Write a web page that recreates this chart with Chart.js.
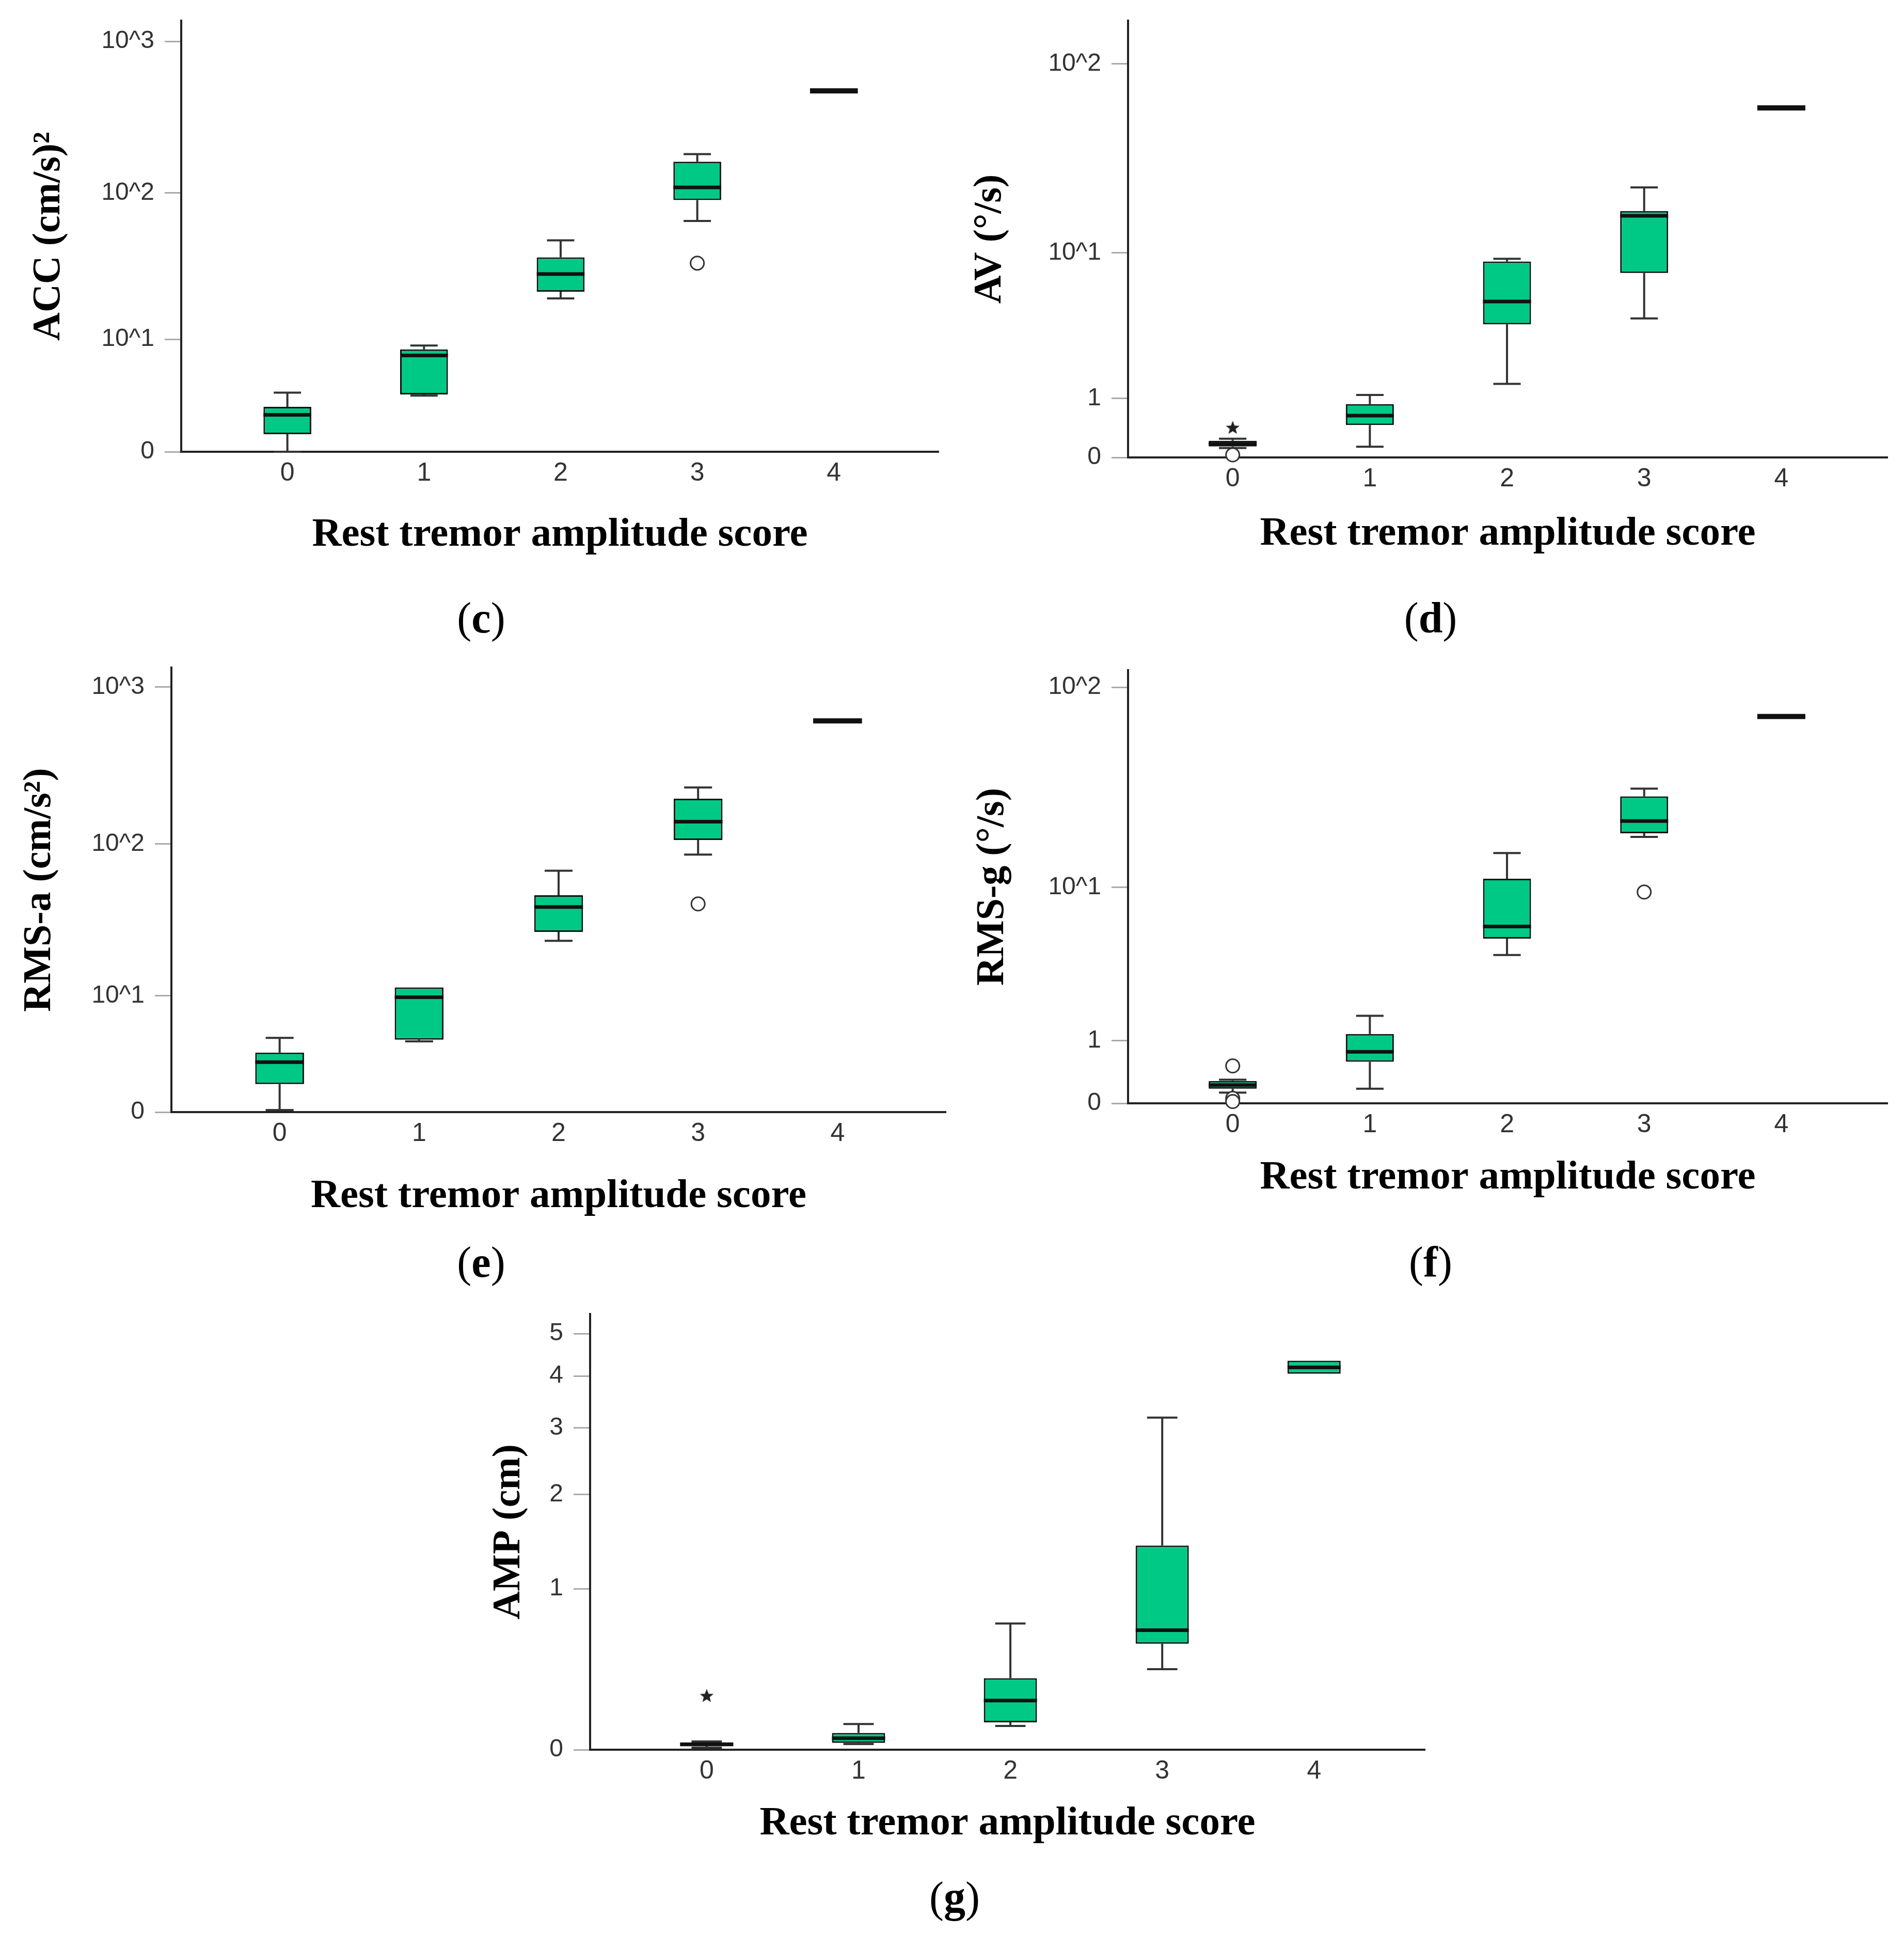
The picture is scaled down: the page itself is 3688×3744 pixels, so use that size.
<!DOCTYPE html>
<html>
<head>
<meta charset="utf-8">
<title>Rest tremor amplitude score - boxplots</title>
<script src="https://cdn.jsdelivr.net/npm/chart.js@4.4.1/dist/chart.umd.min.js"></script>
<style>
  html, body { margin: 0; padding: 0; background: #fff; }
  body { position: relative; width: 3688px; height: 3744px; overflow: hidden; font-family: "Liberation Serif", "Times New Roman", serif; }
  canvas { position: absolute; }
  .cap { position: absolute; font-size: 84px; line-height: 1; transform: translate(-50%, -50%); color: #000; white-space: nowrap; }
</style>
</head>
<body>
<canvas id="chartC"></canvas>
<canvas id="chartD"></canvas>
<canvas id="chartE"></canvas>
<canvas id="chartF"></canvas>
<canvas id="chartG"></canvas>
<div class="cap" style="left:932px;top:1197px">(<b>c</b>)</div>
<div class="cap" style="left:2771px;top:1197px">(<b>d</b>)</div>
<div class="cap" style="left:932px;top:2445px">(<b>e</b>)</div>
<div class="cap" style="left:2771px;top:2445px">(<b>f</b>)</div>
<div class="cap" style="left:1849px;top:3675px">(<b>g</b>)</div>
<script>
// categories
const scores = ["0", "1", "2", "3", "4"];

// (c) ACC (cm/s)²
const accMin = [1.0, 3.68, 19.4, 64.9, 472];
const accQ1 = [1.61, 3.76, 21.6, 89.5, 472];
const accMedian = [2.5, 7.6, 28.5, 108.6, 472];
const accQ3 = [2.95, 8.42, 37.0, 160.8, 472];
const accMax = [3.9, 9.0, 48.2, 180.5, 472];
const accOutScore = [3];
const accOutValue = [33.8];
const accTickValues = [1, 10, 100, 1000];
const accTickLabels = ["0", "10^1", "10^2", "10^3"];

// (d) AV (°/s)
const avMin = [0.116, 0.133, 1.37, 4.1, 59.2];
const avQ1 = [0.137, 0.462, 3.76, 7.69, 59.2];
const avMedian = [0.172, 0.633, 5.22, 16.0, 59.2];
const avQ3 = [0.215, 0.868, 8.94, 16.97, 59.2];
const avMax = [0.245, 1.08, 9.26, 22.7, 59.2];
const avOutScore = [0];
const avOutValue = [0.03];
const avExtScore = [0];
const avExtValue = [0.42];
const avTickValues = [0, 1, 10, 100];
const avTickLabels = ["0", "1", "10^1", "10^2"];

// (e) RMS-a (cm/s²)
const rmsaMin = [1.06, 4.63, 23.5, 85.5, 610];
const rmsaQ1 = [2.01, 4.77, 26.9, 106, 610];
const rmsaMedian = [3.15, 9.74, 39.2, 139, 610];
const rmsaQ3 = [3.78, 11.4, 46.7, 195, 610];
const rmsaMax = [4.92, 11.4, 67.3, 229.7, 610];
const rmsaOutScore = [3];
const rmsaOutValue = [41];
const rmsaTickValues = [1, 10, 100, 1000];
const rmsaTickLabels = ["0", "10^1", "10^2", "10^3"];

// (f) RMS-g (°/s)
const rmsgMin = [0.127, 0.175, 4.18, 18.2, 72.1];
const rmsgQ1 = [0.175, 0.585, 5.22, 19.0, 72.1];
const rmsgMedian = [0.224, 0.77, 6.11, 21.9, 72.1];
const rmsgQ3 = [0.282, 1.158, 11.08, 29.1, 72.1];
const rmsgMax = [0.30, 1.64, 15.07, 31.8, 72.1];
const rmsgOutScore = [0, 0, 0, 3];
const rmsgOutValue = [0.514, 0.057, 0.02, 9.42];
const rmsgTickValues = [0, 1, 10, 100];
const rmsgTickLabels = ["0", "1", "10^1", "10^2"];

// (g) AMP (cm)
const ampMin = [0.009, 0.025, 0.108, 0.415, 4.05];
const ampQ1 = [0.018, 0.030, 0.125, 0.578, 4.05];
const ampMedian = [0.023, 0.051, 0.236, 0.673, 4.19];
const ampQ3 = [0.032, 0.075, 0.361, 1.41, 4.34];
const ampMax = [0.036, 0.117, 0.722, 3.18, 4.34];
const ampExtScore = [0];
const ampExtValue = [0.262];
const ampTickValues = [0, 1, 2, 3, 4, 5];
const ampTickLabels = ["0", "1", "2", "3", "4", "5"];

const GREEN = "#00c986";
const FONT = "'Liberation Serif', 'Times New Roman', serif";
const TICK_FONT = "'Liberation Sans Narrow', 'Liberation Sans', sans-serif";
Chart.defaults.font.family = FONT;
Chart.defaults.color = "#222";

// axes are drawn on a log10(1 + v) scale
const tr = v => Math.log10(1 + v);

// little filled star for the extreme values
const star = document.createElement("canvas");
star.width = 32; star.height = 32;
(function () {
  const c = star.getContext("2d");
  c.beginPath();
  for (let k = 0; k < 10; k++) {
    const r = k % 2 ? 6 : 14;
    const a = -Math.PI / 2 + k * Math.PI / 5;
    c.lineTo(16 + r * Math.cos(a), 17 + r * Math.sin(a));
  }
  c.closePath();
  c.fillStyle = "#222";
  c.fill();
})();

function buildBoxes(mins, q1s, meds, q3s, maxs) {
  const boxes = [], medians = [], singles = [], stems = [], caps = [];
  q1s.forEach((q1, i) => {
    const q3 = q3s[i], md = meds[i], lo = mins[i], hi = maxs[i];
    if (q3 > q1) {
      boxes.push({ x: i, y: [tr(q1), tr(q3)] });
      medians.push({ x: i - 0.175, y: tr(md) }, { x: i + 0.175, y: tr(md) }, { x: i, y: null });
    } else {
      singles.push({ x: i - 0.175, y: tr(md) }, { x: i + 0.175, y: tr(md) }, { x: i, y: null });
    }
    if (hi > q3) {
      stems.push({ x: i, y: tr(q3) }, { x: i, y: tr(hi) }, { x: i, y: null });
      caps.push({ x: i - 0.1, y: tr(hi) }, { x: i + 0.1, y: tr(hi) }, { x: i, y: null });
    }
    if (lo < q1) {
      stems.push({ x: i, y: tr(q1) }, { x: i, y: tr(lo) }, { x: i, y: null });
      caps.push({ x: i - 0.1, y: tr(lo) }, { x: i + 0.1, y: tr(lo) }, { x: i, y: null });
    }
  });
  return { boxes, medians, singles, stems, caps };
}

function points(xs, vs) {
  return xs.map((x, i) => ({ x: x, y: tr(vs[i]) }));
}

function drawPanel(id, geo, stats, outs, exts, tickValues, tickLabels, yTitle) {
  const canvas = document.getElementById(id);
  const yLH = 76 * 1.2, xLH = 78 * 1.2, padTop = 20, padRight = 12;
  const left = Math.round(geo.yTitleX - yLH / 2);
  const top = geo.plotTop - padTop;
  const bottom = Math.round(geo.xTitleY + xLH / 2);
  const width = geo.plotRight + padRight - left;
  const height = bottom - top;
  canvas.width = width;
  canvas.height = height;
  canvas.style.left = left + "px";
  canvas.style.top = top + "px";
  canvas.style.width = width + "px";
  canvas.style.height = height + "px";
  const yW = geo.plotLeft - left;
  const xH = bottom - geo.plotBottom;

  const b = buildBoxes(...stats);
  const lineSet = (data, color, w, order) => ({
    type: "line", data: data, borderColor: color, borderWidth: w,
    pointRadius: 0, order: order, clip: false, tension: 0
  });

  new Chart(canvas, {
    type: "bar",
    data: {
      datasets: [
        lineSet(b.medians, "#111", 7, 0),
        lineSet(b.singles, "#111", 10, 0),
        {
          type: "line", data: outs, showLine: false, pointStyle: "circle",
          pointRadius: 13, pointBackgroundColor: "#fff", pointBorderColor: "#333",
          pointBorderWidth: 3, order: 1, clip: false
        },
        {
          type: "line", data: exts, showLine: false, pointStyle: star,
          pointRadius: 14, order: 1, clip: false
        },
        {
          type: "bar", data: b.boxes, backgroundColor: GREEN, borderColor: "#111",
          borderWidth: 3, borderSkipped: false, barPercentage: 0.35,
          categoryPercentage: 1, grouped: false, order: 2
        },
        lineSet(b.stems, "#333", 4, 3),
        lineSet(b.caps, "#333", 4, 3)
      ]
    },
    options: {
      responsive: false,
      devicePixelRatio: 1,
      animation: false,
      layout: { padding: { top: padTop, right: padRight, left: 0, bottom: 0 } },
      plugins: { legend: { display: false }, tooltip: { enabled: false } },
      scales: {
        x: {
          type: "linear",
          min: geo.xMin,
          max: geo.xMax,
          offset: false,
          afterBuildTicks: s => { s.ticks = scores.map((_, i) => ({ value: i })); },
          afterFit: s => { s.height = xH; s.paddingLeft = 0; s.paddingRight = 0; },
          ticks: {
            autoSkip: false, padding: 12, color: "#333",
            font: { size: 50, family: TICK_FONT },
            callback: v => scores[v]
          },
          grid: { display: false, drawTicks: false, offset: false },
          border: { color: "#222", width: 4 },
          title: {
            display: true, text: "Rest tremor amplitude score", color: "#000",
            font: { size: 79, weight: "bold" }, padding: 0
          }
        },
        y: {
          type: "linear",
          min: geo.uMin,
          max: geo.uMax,
          afterBuildTicks: s => { s.ticks = tickValues.map(v => ({ value: tr(v) })); },
          // keep the plot box where the picture has it
          afterFit: s => { s.width = yW; s.paddingTop = 0; s.paddingBottom = 0; },
          ticks: {
            autoSkip: false, padding: 20, color: "#333",
            font: { size: 48, family: TICK_FONT },
            callback: (v, i) => tickLabels[i]
          },
          grid: { display: true, drawOnChartArea: false, drawTicks: true, tickLength: 32, color: "#aaa", lineWidth: 3 },
          border: { color: "#222", width: 4 },
          title: {
            display: true, text: yTitle, color: "#000",
            font: { size: 76, weight: "bold" }, padding: 0
          }
        }
      }
    }
  });
}

drawPanel("chartC",
  { plotLeft: 351, plotRight: 1822, plotTop: 40, plotBottom: 875, xMin: -0.777, xMax: 4.766, uMin: tr(1), uMax: 3.137, yTitleX: 96, xTitleY: 1037 },
  [accMin, accQ1, accMedian, accQ3, accMax],
  points(accOutScore, accOutValue), [],
  accTickValues, accTickLabels, "ACC (cm/s)²");

drawPanel("chartD",
  { plotLeft: 2185, plotRight: 3660, plotTop: 40, plotBottom: 886, xMin: -0.763, xMax: 4.774, uMin: 0, uMax: 2.224, yTitleX: 1919, xTitleY: 1035 },
  [avMin, avQ1, avMedian, avQ3, avMax],
  points(avOutScore, avOutValue), points(avExtScore, avExtValue),
  avTickValues, avTickLabels, "AV (°/s)");

drawPanel("chartE",
  { plotLeft: 332, plotRight: 1836, plotTop: 1293, plotBottom: 2154, xMin: -0.776, xMax: 4.776, uMin: tr(1), uMax: 3.125, yTitleX: 78, xTitleY: 2318 },
  [rmsaMin, rmsaQ1, rmsaMedian, rmsaQ3, rmsaMax],
  points(rmsaOutScore, rmsaOutValue), [],
  rmsaTickValues, rmsaTickLabels, "RMS-a (cm/s²)");

drawPanel("chartF",
  { plotLeft: 2185, plotRight: 3660, plotTop: 1298, plotBottom: 2137, xMin: -0.763, xMax: 4.774, uMin: 0, uMax: 2.087, yTitleX: 1924, xTitleY: 2282 },
  [rmsgMin, rmsgQ1, rmsgMedian, rmsgQ3, rmsgMax],
  points(rmsgOutScore, rmsgOutValue), [],
  rmsgTickValues, rmsgTickLabels, "RMS-g (°/s)");

drawPanel("chartG",
  { plotLeft: 1143, plotRight: 2763, plotTop: 2545, plotBottom: 3389, xMin: -0.768, xMax: 4.73, uMin: 0, uMax: 0.815, yTitleX: 987, xTitleY: 3533 },
  [ampMin, ampQ1, ampMedian, ampQ3, ampMax],
  [], points(ampExtScore, ampExtValue),
  ampTickValues, ampTickLabels, "AMP (cm)");
</script>
</body>
</html>
